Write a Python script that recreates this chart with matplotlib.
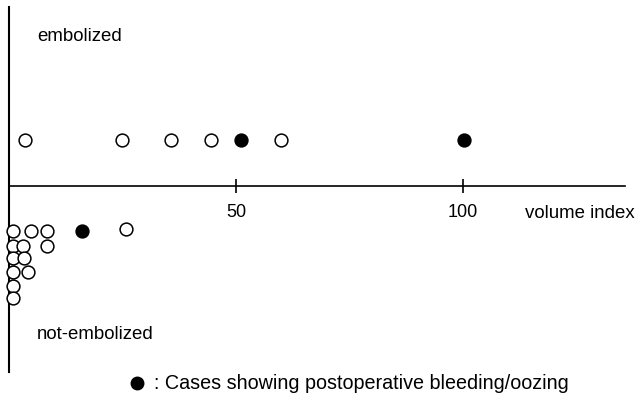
import matplotlib
matplotlib.use("Agg")
import matplotlib.pyplot as plt

plt.rcParams['font.family'] = ['Liberation Sans', 'DejaVu Sans']

# --- data ---
# embolized row (y = 1)
emb_x = [3.5, 24.9, 35.7, 44.5, 51.1, 59.9, 100.2]
emb_y = [1.0, 1.0, 1.0, 1.0, 1.0, 1.0, 1.0]
emb_bleed = [False, False, False, False, True, False, True]

# not-embolized cases (stacked below the axis)
non_x = [0.8, 4.8, 8.3, 16.0, 25.8,
         0.8, 3.0, 8.3,
         0.9, 3.4,
         0.9, 4.1,
         0.9,
         0.9]
non_y = [-0.98, -0.98, -0.98, -0.98, -0.94,
         -1.30, -1.30, -1.30,
         -1.57, -1.57,
         -1.86, -1.86,
         -2.17,
         -2.44]
non_bleed = [False, False, False, True, False,
             False, False, False,
             False, False,
             False, False,
             False,
             False]

tick_vals = [50, 100]
tick_labels = ["50", "100"]

W, H = 639, 400
fig = plt.figure(figsize=(W / 100, H / 100), dpi=100)
ax = fig.add_axes([0, 0, 1, 1])

# pixel -> data mapping chosen so that 0 sits at px 9, 4.54 px per unit
ax.set_xlim(-9 / 4.54, 630 / 4.54)
ax.set_ylim(-214 / 46, 186 / 46)


def draw_points(xs, ys, bleed):
    for x, y, b in zip(xs, ys, bleed):
        ax.plot(x, y, 'o', ms=9.2, mew=1.1, mec='black',
                mfc='black' if b else 'white', clip_on=False, zorder=3)


draw_points(emb_x, emb_y, emb_bleed)
draw_points(non_x, non_y, non_bleed)

# axes as cross lines
for s in ['top', 'right']:
    ax.spines[s].set_visible(False)
ax.spines['bottom'].set_position(('data', 0))
ax.spines['bottom'].set_bounds(0, 616 / 4.54)
ax.spines['left'].set_position(('data', 0))
ax.spines['left'].set_bounds(-186 / 46, 179 / 46)
ax.spines['bottom'].set_linewidth(1.2)
ax.spines['left'].set_linewidth(1.5)

ax.set_xticks(tick_vals)
ax.set_xticklabels(tick_labels)
ax.tick_params(axis='x', direction='inout', length=10, width=1.2, pad=8,
               labelsize=13)
ax.set_yticks([])
ax.patch.set_alpha(0)

fs = 13.4
ax.text(37 / W, 1 - 41 / H, "embolized", transform=fig.transFigure,
        fontsize=fs, va='baseline', ha='left')
ax.text(37 / W, 1 - 339 / H, "not-embolized", transform=fig.transFigure,
        fontsize=fs, va='baseline', ha='left')
ax.text(525 / W, 1 - 218 / H, "volume index", transform=fig.transFigure,
        fontsize=fs, va='baseline', ha='left')

# key for the filled markers
ax.plot([137 / W], [1 - 383 / H], 'o', ms=9, color='black',
        transform=fig.transFigure, clip_on=False)
ax.text(154 / W, 1 - 389 / H, ": Cases showing postoperative bleeding/oozing",
        transform=fig.transFigure, fontsize=14.2, va='baseline', ha='left')

fig.savefig("out.png", dpi=100)
